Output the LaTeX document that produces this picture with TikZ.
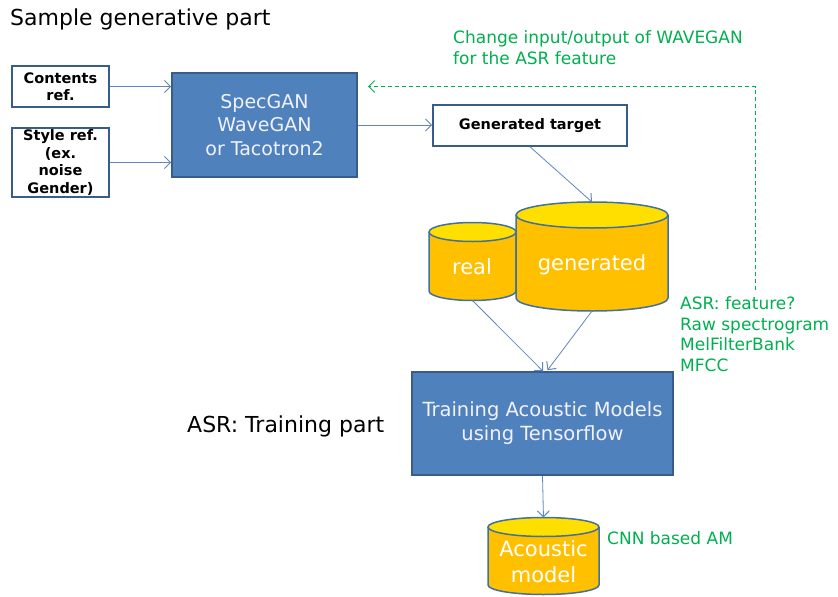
\documentclass[tikz,border=0pt]{standalone}
\usepackage{fontspec}
\setmainfont{DejaVu Sans}
\usetikzlibrary{arrows.meta}
\definecolor{bluefill}{HTML}{4F81BD}
\definecolor{blueedge}{HTML}{385D8A}
\definecolor{gold}{HTML}{FFC000}
\definecolor{goldtop}{HTML}{FFDF00}
\definecolor{grn}{HTML}{00B050}
\definecolor{cyledge}{HTML}{41719C}
\definecolor{arr}{HTML}{5F86C0}
\newcommand\cyl[6]{%
 \fill[gold] ({#2-#5},{-#3}) rectangle ({#2+#5},{-#4});
 \fill[gold] (#2,-#4) ellipse [x radius=#5, y radius=#6];
 \draw[cylline] ({#2-#5},{-#3}) -- ({#2-#5},{-#4}) arc[start angle=180,end angle=360,x radius=#5,y radius=#6] -- ({#2+#5},{-#3});
 \filldraw[cylline, fill=goldtop] (#2,-#3) ellipse [x radius=#5, y radius=#6];
 \coordinate (#1-top) at (#2,{-(#3-#6)});
 \coordinate (#1-bot) at (#2,{-(#4+#6)});
}
\begin{document}
\begin{tikzpicture}[x=1pt,y=1pt,
  refbox/.style={draw=blueedge, line width=1.6pt, fill=white, align=center, inner sep=1pt,
    font=\bfseries\fontsize{14.5}{17.5}\selectfont},
  procbox/.style={draw=blueedge, line width=1.6pt, fill=bluefill, align=center, text=white!95!blue,
    font=\fontsize{19}{23.5}\selectfont},
  cylline/.style={draw=cyledge, line width=1.5pt},
  cyltext/.style={text=white, align=center, font=\fontsize{21}{26}\selectfont},
  flow/.style={draw=arr, line width=0.8pt, -{Straight Barb[length=6pt,width=12pt,line width=1pt]}},
  note/.style={text=grn, align=left, anchor=base west, inner sep=0pt, font=\fontsize{17}{20.5}\selectfont},
  title/.style={text=black, anchor=base west, inner sep=0pt, font=\fontsize{22}{26}\selectfont},
  fb/.style={draw=grn, line width=1pt, dashed, dash pattern=on 4pt off 3pt, -{Straight Barb[length=6pt,width=12pt,line width=1pt]}}
]
\useasboundingbox (0,0) rectangle (838,-597);
\fill[white] (0,0) rectangle (838,-597);

\node[title] (t1) at (10,-25) {Sample generative part};
\node[title] (t2) at (187,-432) {ASR: Training part};

\node[refbox, minimum width=97pt, minimum height=41pt] (contents) at (60.5,-86.5) {Contents\\ref.};
\node[refbox, minimum width=97pt, minimum height=69pt] (style) at (60.5,-162.5) {Style ref.\\(ex.\\noise\\Gender)};
\node[procbox, minimum width=185pt, minimum height=104pt] (gan) at (264.5,-125) {SpecGAN\\WaveGAN\\or Tacotron2};
\node[refbox, minimum width=194pt, minimum height=41pt] (gentarget) at (530,-125.5) {Generated target};
\node[procbox, minimum width=261pt, minimum height=103pt, font=\fontsize{19.5}{24}\selectfont] (train) at (542.5,-423.5) {Training Acoustic Models\\using Tensorflow};

\cyl{real}{472.5}{232}{291}{43.5}{9.5}
\cyl{gen}{592}{215}{298}{76}{13}
\cyl{am}{543.5}{527}{585}{55.5}{9.5}

\node[cyltext] (reallbl) at (472,-267) {real};
\node[cyltext] (genlbl) at (592,-265) {generated};
\node[cyltext] (amlbl) at (543.5,-562) {Acoustic\\model};

\node[note] (chg) at (453,-64) {Change input/output of WAVEGAN\\for the ASR feature};
\node[note] (feat) at (680,-371) {ASR: feature?\\Raw spectrogram\\MelFilterBank\\MFCC};
\node[note] (cnn) at (607,-544) {CNN based AM};

\draw[flow] (contents.east) -- (contents.east -| gan.west);
\draw[flow] (style.east) -- (style.east -| gan.west);
\draw[flow] (gan.east) -- (gan.east -| gentarget.west);
\draw[flow] (gentarget.south) -- (gen-top);
\draw[flow] (real-bot) -- ([xshift=0.5pt]train.north);
\draw[flow] (gen-bot) -- ([xshift=5pt,yshift=1pt]train.north);
\draw[flow] (train.south) -- (am-top);

\coordinate (fbstart) at (755.5,-290);
\coordinate (fbcorner) at (755.5,-86.5);
\coordinate (fbend) at (368,-86.5);
\draw[fb] (fbstart) -- (fbcorner) -- (fbend);
\end{tikzpicture}
\end{document}
